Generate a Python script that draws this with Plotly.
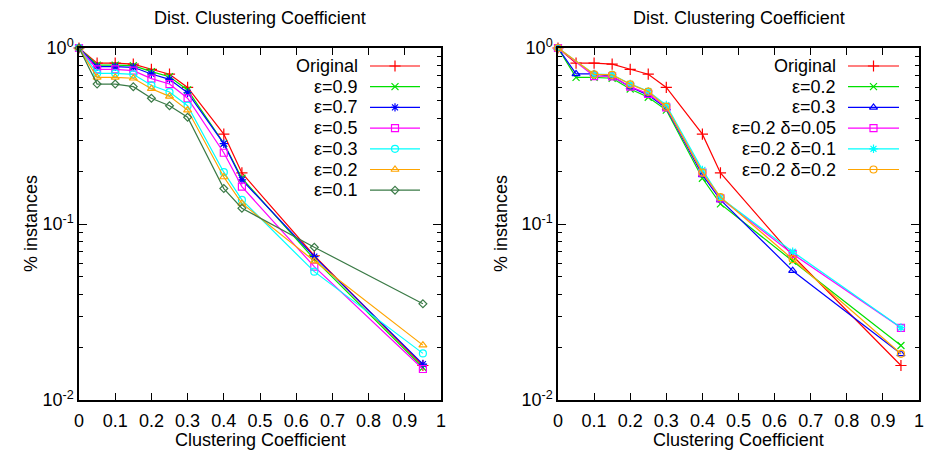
import plotly.graph_objects as go

# ---------------------------------------------------------------- data
CC_ALL = [0, 0.05, 0.1, 0.15, 0.2, 0.25, 0.3, 0.4, 0.45, 0.65, 0.95]
CC_SKIP = [0, 0.1, 0.15, 0.2, 0.25, 0.3, 0.4, 0.45, 0.65, 0.95]

original = [1.0, 0.82, 0.82, 0.81, 0.757, 0.71, 0.597, 0.324, 0.195, 0.066, 0.0157]

# left panel: privacy budget sweep
eps_09 = [1.0, 0.80, 0.80, 0.794, 0.734, 0.687, 0.577, 0.287, 0.182, 0.0631, 0.0153]
eps_07 = [1.0, 0.783, 0.783, 0.777, 0.712, 0.664, 0.557, 0.286, 0.178, 0.0653, 0.0160]
eps_05 = [1.0, 0.756, 0.756, 0.743, 0.670, 0.624, 0.518, 0.254, 0.163, 0.0572, 0.0150]
eps_03 = [1.0, 0.718, 0.718, 0.709, 0.614, 0.562, 0.470, 0.197, 0.137, 0.0536, 0.0184]
eps_02 = [1.0, 0.681, 0.681, 0.673, 0.587, 0.531, 0.444, 0.185, 0.131, 0.0616, 0.0205]
eps_01 = [1.0, 0.624, 0.624, 0.603, 0.518, 0.470, 0.404, 0.159, 0.123, 0.0738, 0.0352]

# right panel: epsilon / delta combinations
r_eps_02 = [1.0, 0.681, 0.681, 0.673, 0.585, 0.525, 0.444, 0.182, 0.130, 0.0616, 0.0204]
r_eps_03 = [1.0, 0.712, 0.712, 0.690, 0.600, 0.540, 0.455, 0.190, 0.137, 0.0543, 0.0183]
r_d005 = [1.0, 0.693, 0.690, 0.603, 0.549, 0.460, 0.196, 0.140, 0.0676, 0.0257]
r_d01 = [1.0, 0.710, 0.705, 0.625, 0.568, 0.474, 0.203, 0.141, 0.0696, 0.0258]
r_d02 = [1.0, 0.709, 0.703, 0.622, 0.565, 0.464, 0.196, 0.142, 0.0631, 0.0183]

X_TICKS = [0, 0.1, 0.2, 0.3, 0.4, 0.5, 0.6, 0.7, 0.8, 0.9, 1.0]
X_TICKTEXT = ["0", "0.1", "0.2", "0.3", "0.4", "0.5", "0.6", "0.7", "0.8", "0.9", "1"]
Y_TICKS = [0.01, 0.1, 1]
Y_TICKTEXT = ["10<sup>-2</sup>", "10<sup>-1</sup>", "10<sup>0</sup>"]

TITLE = "Dist. Clustering Coefficient"
X_TITLE = "Clustering Coefficient"
Y_TITLE = "% instances"

RED, GREEN, BLUE = "#ff0000", "#00e000", "#0000ff"
MAGENTA, CYAN, ORANGE, DKGREEN = "#ff00ff", "#00ffff", "#ffa500", "#3a7a46"

left_series = [
    ("Original", CC_ALL, original, RED, "cross-thin", 8),
    ("ε=0.9", CC_ALL, eps_09, GREEN, "x-thin", 7),
    ("ε=0.7", CC_ALL, eps_07, BLUE, "asterisk", 7),
    ("ε=0.5", CC_ALL, eps_05, MAGENTA, "square-open", 7),
    ("ε=0.3", CC_ALL, eps_03, CYAN, "circle-open", 7),
    ("ε=0.2", CC_ALL, eps_02, ORANGE, "triangle-up-open", 7),
    ("ε=0.1", CC_ALL, eps_01, DKGREEN, "diamond-open", 6),
]
right_series = [
    ("Original", CC_ALL, original, RED, "cross-thin", 8),
    ("ε=0.2", CC_ALL, r_eps_02, GREEN, "x-thin", 7),
    ("ε=0.3", CC_ALL, r_eps_03, BLUE, "triangle-up-open", 7),
    ("ε=0.2 δ=0.05", CC_SKIP, r_d005, MAGENTA, "square-open", 7),
    ("ε=0.2 δ=0.1", CC_SKIP, r_d01, CYAN, "asterisk", 7),
    ("ε=0.2 δ=0.2", CC_SKIP, r_d02, ORANGE, "circle-open", 7),
]

# ---------------------------------------------------------------- layout geometry (pixels)
W, H = 926, 452
FONT = "Liberation Sans, Arial, sans-serif"
FS = 18
PLOT_TOP, PLOT_BOTTOM = 48, 400
PANELS = [
    dict(x0=79, x1=441, series=left_series, xa="x", ya="y",
         leg_text=360, leg_l0=370, leg_l1=420, ytitle_x=31),
    dict(x0=558, x1=919, series=right_series, xa="x2", ya="y2",
         leg_text=838, leg_l0=848, leg_l1=899, ytitle_x=501),
]
LEG_ROW0, LEG_DY = 66, 20.7


def px(x, y):
    return x / W, 1 - y / H


fig = go.Figure()

for p in PANELS:
    for name, xs, ys, col, sym, sz in p["series"]:
        fig.add_trace(go.Scatter(
            x=xs, y=ys, mode="lines+markers", name=name, showlegend=False,
            xaxis=p["xa"], yaxis=p["ya"], cliponaxis=False,
            line=dict(color=col, width=1.2),
            marker=dict(symbol=sym, size=sz, color=col,
                        line=dict(color=col, width=1.2)),
        ))

# key samples drawn on a hidden full-figure pixel axis
annotations = []
for p in PANELS:
    for i, (name, xs, ys, col, sym, sz) in enumerate(p["series"]):
        ry = LEG_ROW0 + i * LEG_DY
        fig.add_trace(go.Scatter(
            x=[p["leg_l0"], p["leg_l1"]], y=[ry, ry], mode="lines",
            xaxis="x3", yaxis="y3", showlegend=False, hoverinfo="skip",
            line=dict(color=col, width=1.2),
        ))
        fig.add_trace(go.Scatter(
            x=[(p["leg_l0"] + p["leg_l1"]) / 2], y=[ry], mode="markers",
            xaxis="x3", yaxis="y3", showlegend=False, hoverinfo="skip",
            marker=dict(symbol=sym, size=sz, color=col,
                        line=dict(color=col, width=1.2)),
        ))
        tx, ty = px(p["leg_text"], ry)
        annotations.append(dict(x=tx, y=ty, xref="paper", yref="paper",
                                text=name, showarrow=False, xanchor="right",
                                yanchor="middle", font=dict(size=FS)))
    cx = (p["x0"] + p["x1"]) / 2
    tx, ty = px(cx, 18)
    annotations.append(dict(x=tx, y=ty, xref="paper", yref="paper", text=TITLE,
                            showarrow=False, xanchor="center", yanchor="middle",
                            font=dict(size=FS)))
    tx, ty = px(cx, 440)
    annotations.append(dict(x=tx, y=ty, xref="paper", yref="paper", text=X_TITLE,
                            showarrow=False, xanchor="center", yanchor="middle",
                            font=dict(size=FS)))
    tx, ty = px(p["ytitle_x"], (PLOT_TOP + PLOT_BOTTOM) / 2)
    annotations.append(dict(x=tx, y=ty, xref="paper", yref="paper", text=Y_TITLE,
                            showarrow=False, xanchor="center", yanchor="middle",
                            textangle=-90, font=dict(size=FS)))

ydom = [1 - PLOT_BOTTOM / H, 1 - PLOT_TOP / H]


def xaxis_cfg(p, anchor):
    return dict(domain=[p["x0"] / W, p["x1"] / W], anchor=anchor, range=[0, 1],
                tickmode="array", tickvals=X_TICKS, ticktext=X_TICKTEXT,
                ticks="inside", ticklen=7, tickwidth=1, tickcolor="black",
                mirror="allticks", showline=True, linecolor="black", linewidth=1.5,
                showgrid=False, zeroline=False, tickfont=dict(size=FS),
                automargin=False, ticklabelstandoff=4)


def yaxis_cfg(anchor):
    return dict(domain=ydom, anchor=anchor, type="log", range=[-2, 0],
                tickmode="array", tickvals=Y_TICKS, ticktext=Y_TICKTEXT,
                ticks="inside", ticklen=8, tickwidth=1, tickcolor="black",
                minor=dict(dtick="D1", ticks="inside",
                           ticklen=4, tickwidth=1, tickcolor="black", showgrid=False),
                mirror="allticks", showline=True, linecolor="black", linewidth=1.5,
                showgrid=False, zeroline=False, tickfont=dict(size=FS),
                automargin=False)


fig.update_layout(
    width=W, height=H,
    margin=dict(l=0, r=0, t=0, b=0, pad=0, autoexpand=False),
    paper_bgcolor="white", plot_bgcolor="rgba(0,0,0,0)",
    font=dict(family=FONT, size=FS, color="black"),
    xaxis=xaxis_cfg(PANELS[0], "y"), yaxis=yaxis_cfg("x"),
    xaxis2=xaxis_cfg(PANELS[1], "y2"), yaxis2=yaxis_cfg("x2"),
    xaxis3=dict(domain=[0, 1], range=[0, W], visible=False, anchor="y3"),
    yaxis3=dict(domain=[0, 1], range=[H, 0], visible=False, anchor="x3"),
    annotations=annotations,
    showlegend=False,
)

fig.write_html("out.html")
